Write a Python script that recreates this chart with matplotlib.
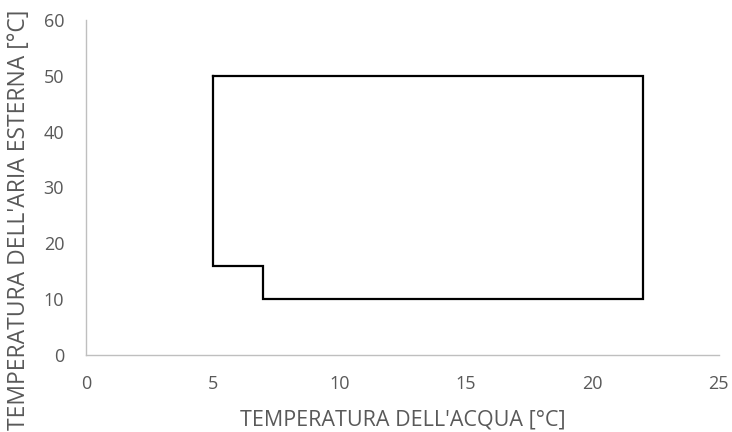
import matplotlib
matplotlib.use('Agg')
from matplotlib import pyplot as plt

# operating envelope outline
water_temp = [5, 22, 22, 7, 7, 5, 5]
air_temp = [50, 50, 10, 10, 16, 16, 50]

x_ticks = [0, 5, 10, 15, 20, 25]
y_ticks = [0, 10, 20, 30, 40, 50, 60]

plt.rcParams['font.family'] = ['Open Sans', 'DejaVu Sans']

fig = plt.figure(figsize=(7.32, 4.32), dpi=100)
ax = fig.add_axes([0.118, 0.178, 0.864, 0.776])

ax.plot(water_temp, air_temp, color='black', linewidth=1.6, solid_joinstyle='miter')

ax.set_xlim(0, 25)
ax.set_ylim(0, 60)
ax.set_xticks(x_ticks)
ax.set_yticks(y_ticks)
ax.tick_params(length=0, labelsize=13, labelcolor='#595959')
ax.tick_params(axis='x', pad=14)
ax.tick_params(axis='y', pad=16)

for side in ['top', 'right']:
    ax.spines[side].set_visible(False)
for side in ['left', 'bottom']:
    ax.spines[side].set_color('#BFBFBF')
    ax.spines[side].set_linewidth(1.0)

ax.set_xlabel("TEMPERATURA DELL'ACQUA [°C]", fontsize=15.5, color='#595959', labelpad=12)
ax.set_ylabel("TEMPERATURA DELL'ARIA ESTERNA [°C]", fontsize=16.5, color='#595959')
ax.yaxis.set_label_coords(-0.087, 0.404)

fig.savefig('out.png', dpi=100)
